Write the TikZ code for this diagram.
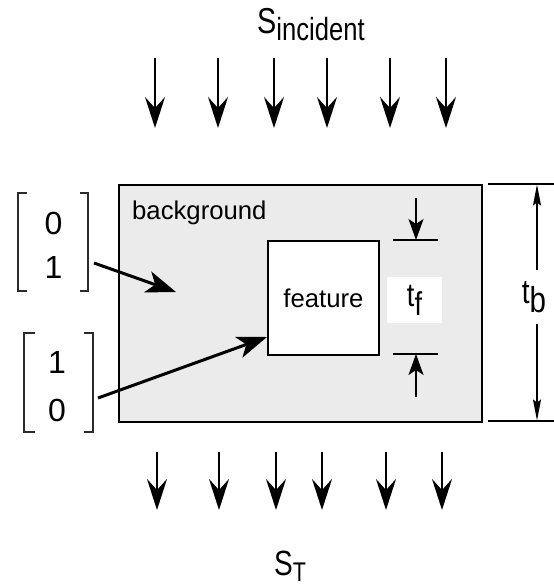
\documentclass[tikz,border=0pt]{standalone}
\usepackage{fontspec}
\usepackage{graphicx}
\setmainfont{Liberation Sans}
\usetikzlibrary{arrows.meta}
\definecolor{bggray}{HTML}{EBEBEB}
\definecolor{brk}{HTML}{2B2B2B}
\begin{document}
\begin{tikzpicture}[x=1pt,y=-1pt,
  flow/.style={line width=2.2pt,-{Stealth[length=31pt,width=20pt,inset=11pt]}},
  feed/.style={line width=3pt,-{Stealth[length=30pt,width=22pt,inset=8pt]}},
  dimarrow/.style={line width=2pt,-{Stealth[length=21pt,width=15pt,inset=5pt]}},
  tbarrow/.style={line width=1.6pt,-{Stealth[length=21pt,width=8pt,inset=3pt]}},
  dimline/.style={line width=1.8pt},
  bracket/.style={line width=2pt,draw=brk},
  digit/.style={font=\fontsize{32}{32}\selectfont,inner sep=0pt,anchor=base},
  txt/.style={font=\fontsize{25.7}{30}\selectfont,inner sep=0pt}]
\useasboundingbox (0,0) rectangle (554,587);

% background block and feature
\node[draw,fill=bggray,line width=1.8pt,minimum width=363pt,minimum height=237pt,
      inner sep=0pt,anchor=north west] (bg) at (118,184) {};
\node[txt,anchor=base west] (bglabel) at (132,219) {background};
\node[draw,fill=white,line width=1.8pt,minimum width=111pt,minimum height=114pt,
      inner sep=0pt,anchor=north west,font=\fontsize{25.7}{30}\selectfont] (feat) at (267,240) {feature};

% incident and transmitted labels
\node[inner sep=0pt,anchor=base west,font=\fontsize{36}{36}\selectfont] (sinc) at (257,33)
  {\scalebox{0.8}[1]{S\raisebox{-7pt}{\fontsize{32}{32}\selectfont incident}}};
\node[inner sep=0pt,anchor=base west,font=\fontsize{35}{35}\selectfont] (st) at (274,575)
  {\scalebox{0.8}[1]{S\raisebox{-6pt}{\fontsize{27}{27}\selectfont T}}};

% incident arrows
\foreach \i/\x in {1/155,2/218,3/274,4/327,5/390,6/446}{
  \coordinate (ia\i) at (\x,58);
  \coordinate (ib\i) at (\x,128);
  \draw[flow] (ia\i) -- (ib\i);
}
% transmitted arrows
\foreach \i/\x in {1/157,2/219,3/276,4/322,5/386,6/442}{
  \coordinate (oa\i) at (\x,452);
  \coordinate (ob\i) at (\x,510);
  \draw[flow] (oa\i) -- (ob\i);
}

% t_f dimension
\coordinate (tfl1) at (393,240);
\coordinate (tfr1) at (438,240);
\coordinate (tfl2) at (393,354);
\coordinate (tfr2) at (438,354);
\draw[dimline] (tfl1) -- (tfr1);
\draw[dimline] (tfl2) -- (tfr2);
\coordinate (tfa) at (416,198);
\coordinate (tfat) at (416,240);
\coordinate (tfb) at (416,397);
\coordinate (tfbt) at (416,354);
\draw[dimarrow] (tfa) -- (tfat);
\draw[dimarrow] (tfb) -- (tfbt);
\node[fill=white,minimum width=55pt,minimum height=46pt,inner sep=0pt,
      font=\fontsize{33}{33}\selectfont] (tf) at (414.5,300)
  {\scalebox{0.82}[1]{t\raisebox{-9pt}{\fontsize{33}{33}\selectfont f}}};

% t_b dimension
\coordinate (tbl1) at (488,184);
\coordinate (tbr1) at (554,184);
\coordinate (tbl2) at (488,421);
\coordinate (tbr2) at (554,421);
\draw[dimline] (tbl1) -- (tbr1);
\draw[dimline] (tbl2) -- (tbr2);
\coordinate (tbtop) at (537,184.5);
\coordinate (tbbot) at (537,420.5);
\node[minimum height=53pt,inner sep=0pt,font=\fontsize{34}{34}\selectfont] (tb) at (534,297)
  {\scalebox{0.82}[1]{t\raisebox{-9pt}{\fontsize{36}{36}\selectfont b}}};
\draw[tbarrow] (tb.north -| tbtop) -- (tbtop);
\draw[tbarrow] (tb.south -| tbbot) -- (tbbot);

% vector [0 1]
\node[digit] (v1a) at (53.5,234) {0};
\node[digit] (v1b) at (53.5,278) {1};
\draw[bracket] (27,193) -- (18,193) -- (18,291) -- (27,291);
\draw[bracket] (80,193) -- (88,193) -- (88,291) -- (80,291);
% vector [1 0]
\node[digit] (v2a) at (57,373) {1};
\node[digit] (v2b) at (57,421) {0};
\draw[bracket] (35,333) -- (24,333) -- (24,432) -- (35,432);
\draw[bracket] (84,333) -- (93,333) -- (93,432) -- (84,432);

% arrows from vectors
\coordinate (v1out) at (94,263);
\coordinate (bgpt) at (176,292);
\coordinate (v2out) at (98,398);
\draw[feed] (v1out) -- (bgpt);
\draw[feed] (v2out) -- (feat.west |- 0,337);
\end{tikzpicture}
\end{document}
